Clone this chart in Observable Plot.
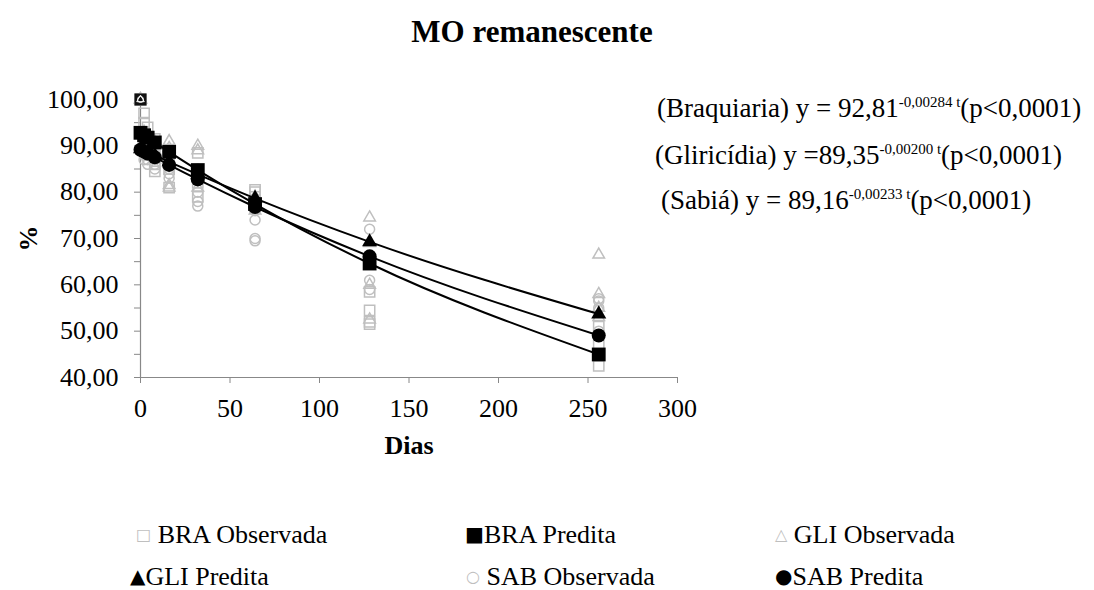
<!DOCTYPE html>
<html><head><meta charset="utf-8">
<script src="https://cdn.jsdelivr.net/npm/d3@7"></script>
<script src="https://cdn.jsdelivr.net/npm/@observablehq/plot@0.6"></script>
<style>
body{margin:0;background:#fff;font-family:"Liberation Serif","Times New Roman",serif;color:#000;}
#wrap{position:relative;width:1094px;height:590px;overflow:hidden;}
#title{position:absolute;left:0;width:1064px;top:14px;line-height:36px;text-align:center;font-weight:bold;font-size:31px;}
#chart{position:absolute;left:0;top:60px;}
.eq{position:absolute;font-size:27px;line-height:30px;white-space:nowrap;}
.eq sup{font-size:15px;vertical-align:0;position:relative;top:-10px;}
.lg{position:absolute;font-size:26px;line-height:30px;white-space:nowrap;}
.obs{color:#bfbfbf;font-size:16px;font-family:"DejaVu Sans",sans-serif;position:relative;top:-3px;}
.pred{color:#000;font-size:20px;font-family:"DejaVu Sans",sans-serif;position:relative;top:-2px;}
svg g[aria-label="x-axis label"] text, svg g[aria-label="y-axis label"] text{font-weight:bold;}
</style>
</head><body>
<div id="wrap">
  <div id="title">MO remanescente</div>
  <div id="chart"></div>
  <div class="eq" style="left:657px;top:93px;">(Braquiaria) y = 92,81<sup>-0,00284 t</sup>(p&lt;0,0001)</div>
  <div class="eq" style="left:655px;top:140px;">(Gliricídia) y =89,35<sup>-0,00200 t</sup>(p&lt;0,0001)</div>
  <div class="eq" style="left:661px;top:185px;">(Sabiá) y = 89,16<sup>-0,00233 t</sup>(p&lt;0,0001)</div>
  <div class="lg" style="left:136px;top:520px;"><span class="obs">□</span> BRA Observada</div>
  <div class="lg" style="left:465px;top:520px;"><span class="pred">■</span>BRA Predita</div>
  <div class="lg" style="left:775px;top:520px;"><span class="obs">△</span> GLI Observada</div>
  <div class="lg" style="left:130px;top:562px;"><span class="pred">▲</span>GLI Predita</div>
  <div class="lg" style="left:466px;top:562px;"><span class="obs">○</span> SAB Observada</div>
  <div class="lg" style="left:775px;top:562px;"><span class="pred">●</span>SAB Predita</div>
</div>
<script>
// Sampling days
const times = [0, 2, 4, 8, 16, 32, 64, 128, 256];

// Observed (4 replicates per day), % remaining
const braObs = [
  [100, 100, 100, 100],
  [97, 95, 93, 91],
  [94, 92, 90, 88],
  [91.5, 88, 86, 84.5],
  [89, 87, 85, 81],
  [88.5, 84, 82, 79],
  [80.5, 80, 79, 77],
  [58.5, 54.5, 52, 51.5],
  [51, 47, 45, 42.5]
];
const gliObs = [
  [100, 100, 100, 100],
  [93, 91, 90, 89],
  [92, 90, 89, 88],
  [91, 89, 88, 87],
  [91, 89.5, 81.5, 81],
  [90, 89, 83, 81],
  [79, 78, 77, 76],
  [74.5, 69, 60, 52.5],
  [66.5, 58, 55, 53]
];
const sabObs = [
  [100, 100, 100, 100],
  [91, 90, 88, 87],
  [90, 89, 87, 86],
  [89, 87, 86, 85],
  [86, 85, 84, 83],
  [85, 80, 78, 77],
  [76, 74, 70, 69.5],
  [72, 66, 61, 59],
  [57, 56.5, 55, 50]
];

// Predicted values
const braPred = [92.81, 92.28, 91.76, 90.73, 88.70, 84.77, 77.43, 64.60, 44.97];
const gliPred = [89.35, 88.99, 88.64, 87.94, 86.55, 83.84, 78.67, 69.27, 53.70];
const sabPred = [89.16, 88.74, 88.33, 87.51, 85.89, 82.75, 76.80, 66.15, 49.08];

// Initial (day 0) dark marker seen at 100 %
const initialDay = [0];
const initialValue = [100];

const xTicks = [0, 50, 100, 150, 200, 250, 300];
const yTicks = [40, 45, 50, 55, 60, 65, 70, 75, 80, 85, 90, 95, 100];

const flat = obs => obs.flatMap((reps, i) => reps.map(v => ({t: times[i], v})));
const pred = arr => arr.map((v, i) => ({t: times[i], v}));
const initial = initialDay.map((t, i) => ({t, v: initialValue[i]}));

const obsColor = "#bfbfbf";
const axisColor = "#888888";
const fmt = d => d % 10 === 0 ? d.toFixed(2).replace(".", ",") : "";

const chart = Plot.plot({
  width: 1094,
  height: 410,
  marginLeft: 140,
  marginRight: 417,
  marginTop: 39,
  marginBottom: 93,
  style: {fontFamily: "'Liberation Serif','Times New Roman',serif", fontSize: "26px", background: "transparent", color: "#000", overflow: "visible"},
  x: {domain: [0, 300]},
  y: {domain: [40, 100]},
  marks: [
    Plot.ruleY([40], {stroke: axisColor, strokeWidth: 1.2, x1: 0, x2: 300}),
    Plot.ruleX([0], {stroke: axisColor, strokeWidth: 1.2, y1: 40, y2: 100}),
    Plot.axisX({ticks: xTicks, tickSize: 6, tickPadding: 15, fontSize: 26, stroke: axisColor, fill: "#000",
      tickFormat: d => String(d), label: "Dias", labelAnchor: "center", labelArrow: "none", labelOffset: 76}),
    Plot.axisY({ticks: yTicks, tickSize: 6, tickPadding: 16, fontSize: 26, stroke: axisColor, fill: "#000",
      tickFormat: fmt, label: "%", labelAnchor: "center", labelArrow: "none", labelOffset: 122}),
    Plot.dot(flat(braObs), {x: "t", y: "v", symbol: "square", r: 5.8, stroke: obsColor, strokeWidth: 1.5, fill: "none"}),
    Plot.dot(flat(gliObs), {x: "t", y: "v", symbol: "triangle", r: 4.3, stroke: obsColor, strokeWidth: 1.5, fill: "none"}),
    Plot.dot(flat(sabObs), {x: "t", y: "v", symbol: "circle", r: 5, stroke: obsColor, strokeWidth: 1.5, fill: "none"}),
    Plot.dot(initial, {x: "t", y: "v", symbol: "square", r: 6.8, fill: "#111", stroke: "none"}),
    Plot.dot(initial, {x: "t", y: "v", symbol: "triangle", r: 2.8, stroke: "#fff", strokeWidth: 1, fill: "none"}),
    Plot.dot(initial, {x: "t", y: "v", symbol: "circle", r: 3, stroke: "#fff", strokeWidth: 1, fill: "none"}),
    Plot.line(pred(braPred), {x: "t", y: "v", stroke: "#000", strokeWidth: 2, curve: "monotone-x"}),
    Plot.line(pred(gliPred), {x: "t", y: "v", stroke: "#000", strokeWidth: 2, curve: "monotone-x"}),
    Plot.line(pred(sabPred), {x: "t", y: "v", stroke: "#000", strokeWidth: 2, curve: "monotone-x"}),
    Plot.dot(pred(braPred), {x: "t", y: "v", symbol: "square", r: 7.8, fill: "#000", stroke: "none"}),
    Plot.dot(pred(gliPred), {x: "t", y: "v", symbol: "triangle", r: 5.6, fill: "#000", stroke: "none"}),
    Plot.dot(pred(sabPred), {x: "t", y: "v", symbol: "circle", r: 7, fill: "#000", stroke: "none"})
  ]
});
document.getElementById("chart").appendChild(chart);
</script>
</body></html>
